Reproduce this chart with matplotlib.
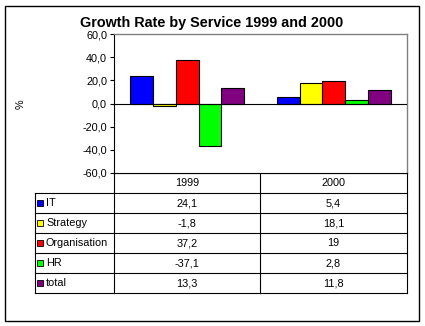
import matplotlib
matplotlib.use("Agg")
import matplotlib.pyplot as plt
from matplotlib.patches import Rectangle

plt.rcParams['font.family'] = ['Liberation Sans', 'DejaVu Sans']

years = ["1999", "2000"]
series = ["IT", "Strategy", "Organisation", "HR", "total"]
it = [24.1, 5.4]
strategy = [-1.8, 18.1]
organisation = [37.2, 19]
hr = [-37.1, 2.8]
total = [13.3, 11.8]
labels_1999 = ["24,1", "-1,8", "37,2", "-37,1", "13,3"]
labels_2000 = ["5,4", "18,1", "19", "2,8", "11,8"]
colors = ["#0000FF", "#FFFF00", "#FF0000", "#00FF00", "#800080"]
yticks = [-60, -40, -20, 0, 20, 40, 60]

W, H = 425, 326
fig = plt.figure(figsize=(W / 100, H / 100), dpi=100)

# overlay axes in pixel coords for frame + table
bg = fig.add_axes([0, 0, 1, 1])
bg.set_xlim(0, W)
bg.set_ylim(H, 0)
bg.axis("off")
bg.add_patch(Rectangle((5.5, 5.5), 413.5, 315.5, fill=False, edgecolor="black", lw=1))

L, R, T, B = 114, 407, 34, 173
ax = fig.add_axes([L / W, 1 - B / H, (R - L) / W, (B - T) / H])
vals = [it, strategy, organisation, hr, total]
n = len(series)
bw = 0.155
for i, (v, c) in enumerate(zip(vals, colors)):
    xs = [g + (i - (n - 1) / 2) * bw for g in range(len(years))]
    ax.bar(xs, v, width=bw, color=c, edgecolor="black", linewidth=0.8, zorder=3)
ax.axhline(0, color="black", lw=0.8, zorder=4)
ax.set_xlim(-0.5, 1.5)
ax.set_ylim(-60, 60)
ax.set_yticks(yticks)
ax.set_yticklabels([f"{t:.1f}".replace(".", ",") for t in yticks], fontsize=7.8)
ax.set_xticks([])
ax.tick_params(axis="y", length=3, width=0.8, pad=2)
for s in ["top", "right"]:
    ax.spines[s].set_color("#808080")
    ax.spines[s].set_linewidth(1)
for s in ["left", "bottom"]:
    ax.spines[s].set_color("black")
    ax.spines[s].set_linewidth(0.8)

fig.text(21 / W, 1 - 104 / H, "%", rotation=90, ha="center", va="center", fontsize=7.8)
fig.text(212 / W, 1 - 23 / H, "Growth Rate by Service 1999 and 2000",
         ha="center", va="center", fontsize=10.4, fontweight="bold")

# table
cols = [114, 260, 407]
rows_y = [173, 193, 213, 233, 253, 273, 293]
lw = 0.8
for x in cols:
    bg.plot([x, x], [173, 293], color="black", lw=lw)
bg.plot([35, 35], [193, 293], color="black", lw=lw)
for y in rows_y[1:]:
    bg.plot([35, 407], [y, y], color="black", lw=lw)
bg.plot([114, 407], [173, 173], color="black", lw=lw)
for j, yr in enumerate(years):
    bg.text((cols[j] + cols[j + 1]) / 2, 183.5, yr, ha="center", va="center", fontsize=7.8)
for i, name in enumerate(series):
    yc = (rows_y[i + 1] + rows_y[i + 2]) / 2 + 0.5
    bg.add_patch(Rectangle((37.5, yc - 3.5), 6, 6, facecolor=colors[i], edgecolor="black", lw=0.6))
    bg.text(46, yc, name, ha="left", va="center", fontsize=7.8)
    bg.text((cols[0] + cols[1]) / 2, yc, labels_1999[i], ha="center", va="center", fontsize=7.8)
    bg.text((cols[1] + cols[2]) / 2, yc, labels_2000[i], ha="center", va="center", fontsize=7.8)

fig.savefig("out.png", dpi=100)
